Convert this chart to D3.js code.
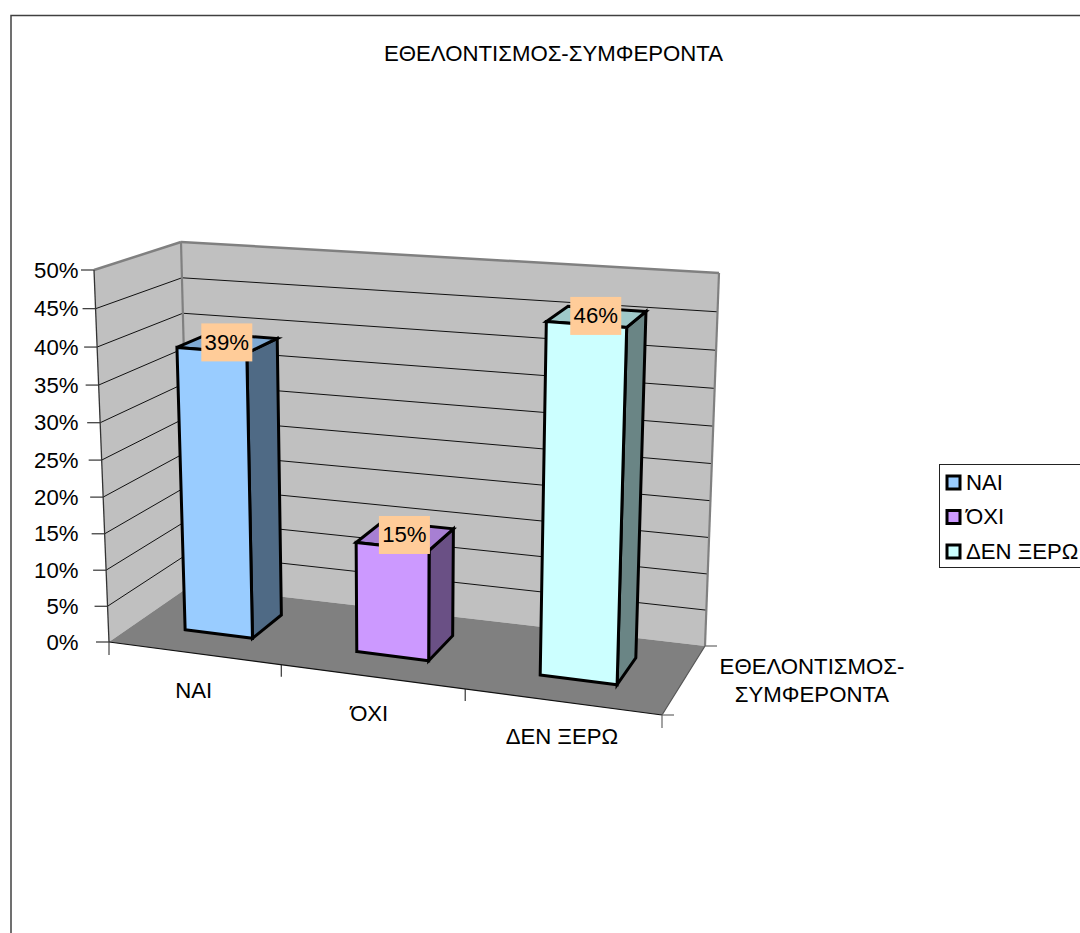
<!DOCTYPE html>
<html><head><meta charset="utf-8">
<style>html,body{margin:0;padding:0;background:#fff;overflow:hidden}svg{display:block}text{font-family:"Liberation Sans",Arial,sans-serif;fill:#000}</style>
<script src="https://cdn.jsdelivr.net/npm/d3@7"></script></head><body>
<svg id="c" width="1080" height="933"></svg>
<script>
const chartTitle = "ΕΘΕΛΟΝΤΙΣΜΟΣ-ΣΥΜΦΕΡΟΝΤΑ";
const categories = ["ΝΑΙ","ΌΧΙ","ΔΕΝ ΞΕΡΩ"];
const values = [39,15,46];
const seriesLines = ["ΕΘΕΛΟΝΤΙΣΜΟΣ-","ΣΥΜΦΕΡΟΝΤΑ"];
const valueTicks = [0,5,10,15,20,25,30,35,40,45,50];
const frontColors = ["#99CCFF","#CC99FF","#CCFFFF"];
const sideColors = ["#4F6A85","#6A5085","#6A8585"];
const topColors = ["#7FA9D3","#A77FD3","#9FC9C9"];

// perspective frame: cube corners on screen
const C = {FL0:[109,642],FR0:[662,715],BL0:[190,586],BR0:[705,646],
           FL1:[94,270],FR1:[675,312],BL1:[181,242],BR1:[719,273]};
const warp=(v,k)=>k*v/(1+(k-1)*v);
const mix=(a,b,f)=>[a[0]+(b[0]-a[0])*f,a[1]+(b[1]-a[1])*f];
function project(t,d,h){
  const T=warp(t,0.905),D=warp(d,1.147),H=warp(h,0.957);
  const f0=mix(C.FL0,C.FR0,T),f1=mix(C.FL1,C.FR1,T),b0=mix(C.BL0,C.BR0,T),b1=mix(C.BL1,C.BR1,T);
  return mix(mix(f0,b0,D),mix(f1,b1,D),H);
}
const xBand=d3.scaleBand().domain(categories).range([0,1]).paddingInner(0.6).paddingOuter(0.3);
const depth=d3.scaleBand().domain(["s"]).range([0,1]).padding(0.43);
const yVal=d3.scaleLinear().domain([0,50]).range([0,1]);
const catLabelY=d3.scalePoint().domain(categories).range([698,744]);
const svg=d3.select("#c");
const FS=22.2;
const line=(p,c,w)=>svg.append("line").attr("x1",p[0][0]).attr("y1",p[0][1]).attr("x2",p[1][0]).attr("y2",p[1][1]).attr("stroke",c).attr("stroke-width",w);
const poly=(pts,fill,stroke,w)=>svg.append("polygon").attr("points",pts.map(p=>p.join(",")).join(" ")).attr("fill",fill).attr("stroke",stroke||"none").attr("stroke-width",w||0).attr("stroke-linejoin","miter");
const label=(s,x,y,a)=>svg.append("text").attr("x",x).attr("y",y).attr("text-anchor",a||"middle").attr("font-size",FS).text(s);

// outer frame
svg.append("path").attr("d","M11,933V15.5H1080").attr("fill","none").attr("stroke","#000").attr("stroke-width",1.5).attr("stroke-opacity",.75);
label(chartTitle,553.5,61);

// walls & floor
poly([C.FL0,C.FL1,C.BL1,C.BL0],"#C0C0C0");
poly([C.BL0,C.BL1,C.BR1,C.BR0],"#C0C0C0");
poly([C.FL0,C.BL0,C.BR0,C.FR0],"#808080");

// gridlines and value ticks
valueTicks.forEach(v=>{
  const h=yVal(v),f=project(0,0,h),b=project(0,1,h),r=project(1,1,h);
  line([[f[0]-13,f[1]],f],"#222",1.1);
  label(v+"%",78.5,f[1]+7.5,"end");
  if(v>0&&v<50){ line([f,b],"#111",1); line([b,r],"#111",1); }
});
// wall edges
line([C.BL1,C.BL0],"#808080",2.2);
line([C.BL1,C.BR1],"#808080",2.5);
line([C.BR1,C.BR0],"#808080",2.2);
line([C.FL1,C.BL1],"#808080",2.5);
line([C.FL1,C.FL0],"#333",1.3);
line([C.FL0,C.FR0],"#111",1.2);
line([C.FR0,C.BR0],"#555",1.2);
line([C.FL0,[C.FL0[0],C.FL0[1]+13]],"#333",1.1);
[1,2].forEach(i=>{const p=project(i*xBand.step(),0,0);line([[p[0],p[1]],[p[0],p[1]+12]],"#222",1.1);});
line([C.FR0,[C.FR0[0],C.FR0[1]+13]],"#666",1.2);
line([C.FR0,[C.FR0[0]+12,C.FR0[1]]],"#666",1.2);
line([C.BR0,[C.BR0[0]+12,C.BR0[1]]],"#666",1.2);

// bars
const d0=depth("s"),d1=d0+depth.bandwidth();
categories.forEach((c,i)=>{
  const t0=xBand(c),t1=t0+xBand.bandwidth(),h=yVal(values[i]);
  poly([project(t1,d0,0),project(t1,d1,0),project(t1,d1,h),project(t1,d0,h)],sideColors[i],"#000",3);
  poly([project(t0,d0,h),project(t1,d0,h),project(t1,d1,h),project(t0,d1,h)],topColors[i],"#000",3);
  poly([project(t0,d0,0),project(t1,d0,0),project(t1,d0,h),project(t0,d0,h)],frontColors[i],"#000",3);
});
// data labels
categories.forEach((c,i)=>{
  const tm=xBand(c)+xBand.bandwidth()/2,p=project(tm,0.5,yVal(values[i]));
  const cx=p[0]-1,cy=p[1]-0.5;
  svg.append("rect").attr("x",cx-25.5).attr("y",cy-19).attr("width",51).attr("height",38).attr("fill","#FFCC99");
  label(values[i]+"%",cx,cy+7.5);
});
// category labels
categories.forEach(c=>{
  const p=project(xBand(c)+xBand.bandwidth()/2,0,0);
  label(c,p[0]-(c==="ΌΧΙ"?2.5:0),catLabelY(c));
});
seriesLines.forEach((s,i)=>label(s,812,674+i*28));

// legend
svg.append("rect").attr("x",939.5).attr("y",464.5).attr("width",160).attr("height",103).attr("fill","#fff").attr("stroke","#222").attr("stroke-width",1);
categories.forEach((c,i)=>{
  const y=476+i*34.5;
  svg.append("rect").attr("x",947).attr("y",y).attr("width",13).attr("height",13).attr("fill",frontColors[i]).attr("stroke","#000").attr("stroke-width",3);
  label(c,966,y+13.5,"start");
});
</script></body></html>
